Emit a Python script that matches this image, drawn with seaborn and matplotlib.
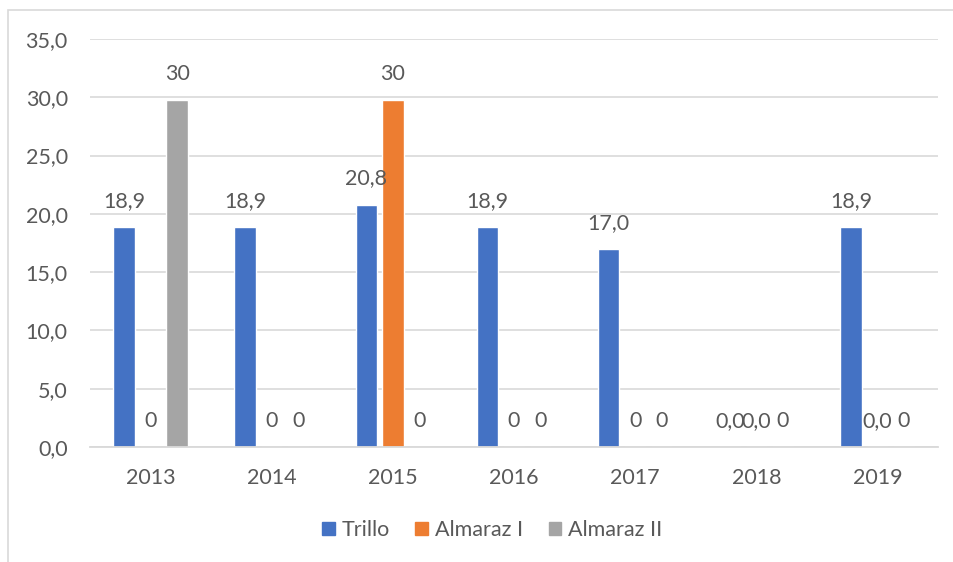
import matplotlib
matplotlib.use("Agg")
import matplotlib.pyplot as plt
import matplotlib.patches as mpatches
from matplotlib.ticker import FuncFormatter, MultipleLocator
import seaborn as sns
import pandas as pd

years = ["2013", "2014", "2015", "2016", "2017", "2018", "2019"]
series = ["Trillo", "Almaraz I", "Almaraz II"]
trillo = [18.9, 18.9, 20.8, 18.9, 17.0, 0.0, 18.9]
almaraz1 = [0.0, 0.0, 29.8, 0.0, 0.0, 0.0, 0.0]
almaraz2 = [29.8, 0.0, 0.0, 0.0, 0.0, 0.0, 0.0]
trillo_labels = ["18,9", "18,9", "20,8", "18,9", "17,0", "0,0", "18,9"]
almaraz1_labels = ["0", "0", "30", "0", "0", "0,0", "0,0"]
almaraz2_labels = ["30", "0", "0", "0", "0", "0", "0"]
colors = ["#4472C4", "#ED7D31", "#A5A5A5"]

values = [trillo, almaraz1, almaraz2]
labels = [trillo_labels, almaraz1_labels, almaraz2_labels]

rows = []
for s, vals in zip(series, values):
    for y, v in zip(years, vals):
        rows.append({"Year": y, "Series": s, "Value": v})
df = pd.DataFrame(rows)

sns.set_theme(style="white")
plt.rcParams["font.family"] = ["Lato", "DejaVu Sans"]
text_color = "#595959"
grid_color = "#D9D9D9"
fs = 15.5

fig = plt.figure(figsize=(9.54, 5.62), dpi=100)
ax = fig.add_axes([90/954, (562-447)/562, (938-90)/954, (447-39)/562])

sns.barplot(data=df, x="Year", y="Value", hue="Series", order=years,
            hue_order=series, palette=colors, width=0.657, gap=0.19,
            saturation=1, ax=ax, legend=False, errorbar=None)

ax.set_ylim(0, 35)
ax.set_xlim(-0.5, len(years) - 0.5)
ax.yaxis.set_major_locator(MultipleLocator(5))
ax.yaxis.set_major_formatter(FuncFormatter(lambda v, p: f"{v:.1f}".replace(".", ",")))
ax.grid(axis="y", color=grid_color, linewidth=1.2)
ax.set_axisbelow(True)
for side in ["top", "right", "left"]:
    ax.spines[side].set_visible(False)
ax.spines["bottom"].set_color(grid_color)
ax.spines["bottom"].set_linewidth(1.3)
ax.set_xlabel("")
ax.set_ylabel("")
ax.tick_params(axis="y", length=0, pad=16, labelsize=fs, labelcolor=text_color)
ax.tick_params(axis="x", length=0, pad=15, labelsize=fs, labelcolor=text_color)

for cont, labs in zip(ax.containers, labels):
    for patch, lab in zip(cont.patches, labs):
        x = patch.get_x() + patch.get_width() / 2
        y = patch.get_height()
        ax.annotate(lab, (x, y), xytext=(0, 26), textcoords="offset pixels",
                    ha="center", va="center", fontsize=fs, color=text_color)

handles = [mpatches.Patch(color=c, label=s) for c, s in zip(colors, series)]
leg = fig.legend(handles=handles, loc="center", bbox_to_anchor=(492/954, (562-530)/562),
                 ncol=3, frameon=False, fontsize=fs, handlelength=0.6,
                 handleheight=0.6, handletextpad=0.3, columnspacing=1.2)
for t in leg.get_texts():
    t.set_color(text_color)

border = mpatches.Rectangle((8/954, -0.1), 1.2, (562-10)/562 + 0.1,
                            transform=fig.transFigure, fill=False,
                            edgecolor=grid_color, linewidth=1.2)
fig.patches.append(border)

fig.savefig("out.png", dpi=100)
